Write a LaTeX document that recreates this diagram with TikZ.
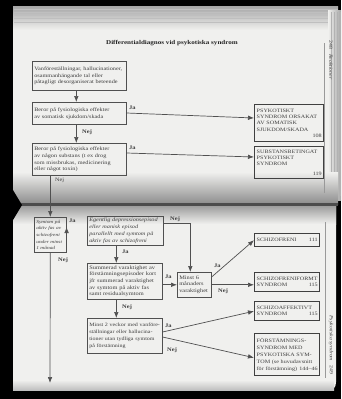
\documentclass[tikz,border=0pt]{standalone}
\usepackage{fontspec}
\setmainfont{Liberation Serif}[FakeStretch=1.2]
\usetikzlibrary{arrows.meta,calc}
\definecolor{pagec}{RGB}{240,240,238}
\definecolor{inkc}{RGB}{62,62,62}
\definecolor{linec}{RGB}{80,80,80}
\begin{document}
\begin{tikzpicture}[x=1pt,y=-1pt,
  font=\fontsize{5.2}{6.9}\selectfont,
  box/.style={draw=linec, line width=0.6pt, anchor=north west, align=left,
    inner xsep=2pt, inner ysep=1.2pt, text=inkc},
  res/.style={box, line width=1.4pt, draw=black!75, font=\fontsize{5.1}{6.2}\selectfont},
  arr/.style={draw=linec, line width=0.7pt, -{Latex[length=6pt,width=4.6pt]}},
  lab/.style={font=\bfseries\fontsize{5.4}{6}\selectfont, text=inkc, inner sep=0pt, anchor=west},
  rule/.style={draw=black!40, line width=0.4pt}]
% ---------- background (photo of the book spread) ----------
\useasboundingbox (0,0) rectangle (341,399);
\fill[black] (0,0) rectangle (341,399);
% top page
\fill[pagec] (13,6) rectangle (338,206);
\shade[top color=black!35, bottom color=pagec] (13,6) rectangle (338,30);
\foreach \yy in {9,12,15,18,22} {\draw[black!25, line width=0.3pt] (14,\yy) -- (338,\yy);}
\shade[left color=pagec, right color=black!35] (328,10) rectangle (341,200);
\foreach \xx in {331,334,337,340} {\draw[black!30, line width=0.3pt] (\xx,12) -- (\xx,196);}
\shade[top color=pagec, bottom color=black!45] (13,172) rectangle (338,204);
% bottom page
\fill[pagec] (13,206) -- (336,206) -- (336,382) .. controls (336,388) and (333,390) .. (328,390) -- (13,390) -- cycle;
\shade[top color=black!40, bottom color=pagec] (13,205) rectangle (336,224);
\fill[black!70] (13,203) rectangle (338,206);
\fill[black] (13,190) -- (22,205) -- (13,220) -- cycle;
\shade[top color=pagec, bottom color=black!25] (13,380) rectangle (334,390);
% ---------- title and margins ----------
\node[font=\bfseries\fontsize{5.9}{7}\selectfont, text=black!85] (title) at (172,43) {Differentialdiagnos vid psykotiska syndrom};
\draw[rule] (324,43) -- (324,193);
\node[rotate=-90, text=inkc, font=\fontsize{4.8}{6}\selectfont] (pg248) at (331,60) {248\quad\itshape Reaktioner};
\draw[rule] (325,222) -- (325,378);
\node[rotate=-90, text=inkc, font=\fontsize{4.8}{6}\selectfont] (pg249) at (331,345) {\itshape Psykotiska syndrom\quad\upshape 249};
% ---------- top page boxes ----------
\node[box, minimum width=94pt, minimum height=29pt, text width=90pt] (b1) at (32,61)
  {Vanföreställningar, hallucinationer,\\osammanhängande tal eller\\påtagligt desorganiserat beteende};
\node[box, minimum width=94pt, minimum height=22pt, text width=90pt] (b2) at (32,102)
  {Beror på fysiologiska effekter\\av somatisk sjukdom/skada};
\node[box, minimum width=94pt, minimum height=32pt, text width=90pt] (b3) at (32,143)
  {Beror på fysiologiska effekter\\av någon substans (t ex drog\\som missbrukas, medicinering\\eller något toxin)};
\node[res, minimum width=69pt, minimum height=37pt, text width=65pt] (r1) at (254,104)
  {PSYKOTISKT\\SYNDROM ORSAKAT\\AV SOMATISK\\SJUKDOM/SKADA\\\hspace*{\fill}108};
\node[res, minimum width=69pt, minimum height=32pt, text width=65pt] (r2) at (254,146)
  {SUBSTANSBETINGAT\\PSYKOTISKT\\SYNDROM\\[3pt]\hspace*{\fill}119};
% ---------- bottom page boxes ----------
\node[box, minimum width=32pt, minimum height=35pt, text width=28pt, font=\itshape\fontsize{4.5}{6.7}\selectfont] (s1) at (34,217)
  {Symtom på\\aktiv fas av\\schizofreni\\under minst\\1 månad};
\node[box, minimum width=76pt, minimum height=29pt, text width=72pt, font=\itshape\fontsize{5.2}{6.8}\selectfont] (s2) at (87,216)
  {Egentlig depressionsepisod\\eller manisk episod\\parallellt med symtom på\\aktiv fas av schizofreni};
\node[box, minimum width=75pt, minimum height=36pt, text width=71pt, font=\fontsize{5.3}{6.7}\selectfont] (s3) at (87,263)
  {Summerad varaktighet av\\förstämningsepisoder kort\\jfr summerad varaktighet\\av symtom på aktiv fas\\samt residualsymtom};
\node[box, minimum width=34pt, minimum height=25pt, text width=30pt, font=\fontsize{5.3}{6.7}\selectfont] (m) at (177,272)
  {Minst 6\\månaders\\varaktighet};
\node[box, minimum width=75pt, minimum height=35pt, text width=71pt, font=\fontsize{5.0}{6.9}\selectfont] (s4) at (87,318)
  {Minst 2 veckor med vanföre-\\ställningar eller hallucina-\\tioner utan tydliga symtom\\på förstämning};
\node[res, minimum width=65pt, minimum height=13pt, text width=61pt] (r3) at (254,233)
  {SCHIZOFRENI\hfill 111};
\node[res, minimum width=65pt, minimum height=19pt, text width=61pt] (r4) at (254,272)
  {SCHIZOFRENIFORMT\\SYNDROM\hfill 115};
\node[res, minimum width=65pt, minimum height=19pt, text width=61pt] (r5) at (254,301)
  {SCHIZOAFFEKTIVT\\SYNDROM\hfill 115};
\node[res, minimum width=65pt, minimum height=42pt, text width=61pt, font=\fontsize{5.1}{7}\selectfont] (r6) at (254,333)
  {FÖRSTÄMNINGS-\\SYNDROM MED\\PSYKOTISKA SYM-\\TOM (se huvudavsnitt\\för förstämning)\hfill 144–46};
% ---------- connectors, top page ----------
\draw[arr] ($(b1.south)+(-3,0)$) -- ($(b2.north)+(-3,0)$);
\draw[arr] ($(b2.south)+(-3,0)$) -- ($(b3.north)+(-3,0)$);
\node[lab] (lnej1) at (82,132) {Nej};
\draw[arr] ($(b2.north east)+(0,11)$) -- ($(r1.north west)+(0,14)$);
\node[lab] (lja1) at (129,108) {Ja};
\draw[arr] ($(b3.north east)+(0,10)$) -- ($(r2.north west)+(0,11)$);
\node[lab] (lja2) at (129,148) {Ja};
% b3 -> s1 across the gutter
\coordinate (bend) at ($(b3.south -| s1.north)+(0,34)$);
\draw[arr] (b3.south -| s1.north) .. controls ($(bend)+(0,6)$) .. (s1.north);
\node[lab, font=\fontsize{5.2}{6}\selectfont] (lnej2) at (55,180) {Nej};
% ---------- connectors, bottom page ----------
\draw[arr] ($(s1.north east)+(0,10)$) -- ($(s1.north east)+(0,10)$ -| s2.west);
\node[lab] (lja3) at (69,221) {Ja};
\coordinate (s2out) at ($(s2.north east)+(0,7)$);
\draw[arr] (s2out) -| ($(m.north)+(-4,0)$);
\node[lab] (lnej3) at (170,219) {Nej};
\draw[arr] ($(s2.south)+(-9,0)$) -- ($(s3.north)+(-8.5,0)$);
\node[lab] (lja4) at (122,252) {Ja};
\draw[arr] (s3.east |- m.west) -- (m.west);
\node[lab] (lja5) at (165,277) {Ja};
\draw[arr] ($(m.north east)+(0,5)$) -- (r3.west);
\node[lab] (lja6) at (214,266) {Ja};
\draw[arr] (m.east) -- (m.east -| r4.west);
\node[lab] (lnej4) at (218,291) {Nej};
\draw[arr] ($(s3.south)+(-8.5,0)$) -- ($(s4.north)+(-8.5,0)$);
\node[lab] (lnej5) at (122,307) {Nej};
\draw[arr] ($(s4.north east)+(0,14)$) -- (r5.west);
\node[lab] (lja7) at (165,326) {Ja};
\draw[arr] ($(s4.north east)+(0,19)$) -- ($(r6.west)+(0,3)$);
\node[lab] (lnej6) at (167,350) {Nej};
\coordinate (send) at (50,383);
\draw[arr] (s1.south) -- (send);
\node[lab] (lnej7) at (58,260) {Nej};
\end{tikzpicture}
\end{document}
